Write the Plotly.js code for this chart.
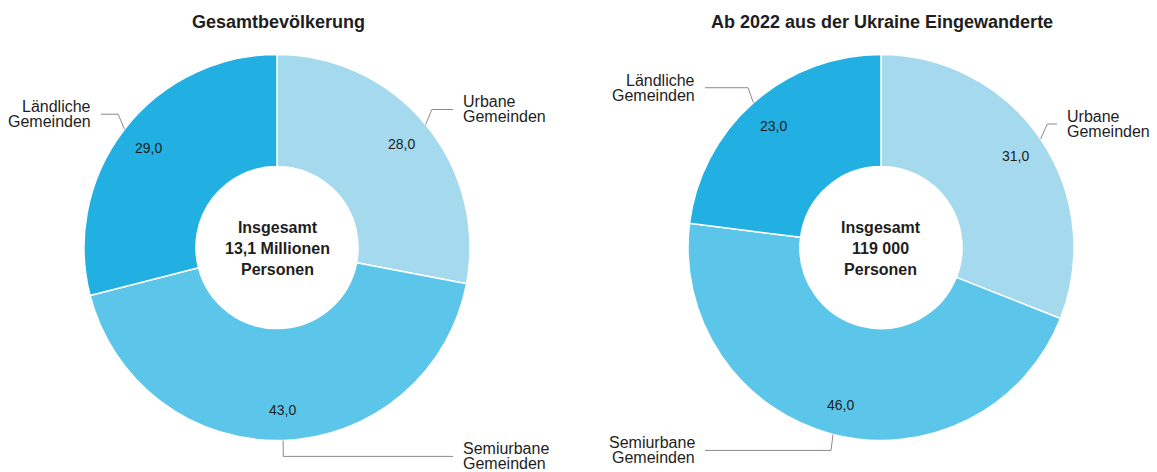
<!DOCTYPE html>
<html>
<head>
<meta charset="utf-8">
<script src="https://cdn.plot.ly/plotly-3.0.1.min.js"></script>
<style>html,body{margin:0;padding:0;background:#fff;}#chart{width:1157px;height:472px;}</style>
</head>
<body>
<div id="chart"></div>
<script>
// ---- data ----
const pieTitles = ['Gesamtbevölkerung', 'Ab 2022 aus der Ukraine Eingewanderte'];
const categories = ['Urbane Gemeinden', 'Semiurbane Gemeinden', 'Ländliche Gemeinden'];
const categoryLines = [['Urbane', 'Gemeinden'], ['Semiurbane', 'Gemeinden'], ['Ländliche', 'Gemeinden']];
const valuesGesamt = [28.0, 43.0, 29.0];
const valuesUkraine = [31.0, 46.0, 23.0];
const centerTexts = ['Insgesamt<br>13,1 Millionen<br>Personen', 'Insgesamt<br>119 000<br>Personen'];
const sliceColors = ['#A5D9EE', '#5BC6EA', '#22AFE1'];

// ---- layout constants (pixels) ----
const W = 1157, H = 472;
const CX = [277, 881], CY = 247.5, R = 193;
const HOLE = 0.42;
const FONT = '"Liberation Sans", Arial, sans-serif';
const TXT = '#1e1e1e';

const px = x => x / W;
const py = y => 1 - y / H;
const fmt = v => v.toFixed(1).replace('.', ',');

const seriesList = [valuesGesamt, valuesUkraine];
const traces = [];
const annotations = [];
const shapes = [];

seriesList.forEach((vals, k) => {
  const cx = CX[k];
  traces.push({
    type: 'pie',
    labels: categories,
    values: vals,
    sort: false,
    direction: 'clockwise',
    rotation: 0,
    hole: HOLE,
    textinfo: 'none',
    hoverinfo: 'none',
    marker: {colors: sliceColors, line: {color: '#ffffff', width: 1.5}},
    domain: {x: [px(cx - R), px(cx + R)], y: [py(CY + R), py(CY - R)]},
    showlegend: false
  });

  // title
  annotations.push({
    xref: 'paper', yref: 'paper', x: px(cx + 1), y: py(22),
    xanchor: 'center', yanchor: 'middle', showarrow: false,
    text: '<b>' + pieTitles[k] + '</b>',
    font: {family: FONT, size: 18, color: TXT}
  });
  // center text
  annotations.push({
    xref: 'paper', yref: 'paper', x: px(cx), y: py(CY + 1),
    xanchor: 'center', yanchor: 'middle', showarrow: false,
    text: '<b>' + centerTexts[k] + '</b>',
    font: {family: FONT, size: 16, color: TXT}
  });

  const total = vals.reduce((a, b) => a + b, 0);
  let cum = 0;
  vals.forEach((v, i) => {
    const th = 2 * Math.PI * (cum + v / 2) / total;
    cum += v;
    const s = Math.sin(th), c = Math.cos(th);
    // value label
    annotations.push({
      xref: 'paper', yref: 'paper',
      x: px(cx + 0.84 * R * s), y: py(CY - 0.84 * R * c),
      xanchor: 'center', yanchor: 'middle', showarrow: false,
      text: fmt(v), font: {family: FONT, size: 14, color: TXT}
    });
    // leader line
    const side = s >= 0 ? 1 : -1;
    const ax = cx + R * s, ay = CY - R * c;
    const ex = ax + side * 8 * Math.abs(s);
    const ey = ay + (c > 0 ? -15 : 16);
    const lx = cx + side * 176;
    const lineStyle = {color: '#8a8a8a', width: 1};
    shapes.push({type: 'line', xref: 'paper', yref: 'paper', x0: px(ax), y0: py(ay), x1: px(ex), y1: py(ey), line: lineStyle});
    shapes.push({type: 'line', xref: 'paper', yref: 'paper', x0: px(ex), y0: py(ey), x1: px(lx), y1: py(ey), line: lineStyle});
    // category label (two lines)
    const tx = cx + side * 184;
    categoryLines[i].forEach((ln, j) => {
      annotations.push({
        xref: 'paper', yref: 'paper', x: px(tx), y: py(ey + (j === 0 ? -7.5 : 7.5)),
        xanchor: side > 0 ? 'left' : 'right', yanchor: 'middle', showarrow: false,
        text: ln, font: {family: FONT, size: 16, color: TXT}
      });
    });
  });
});

const layout = {
  width: W, height: H,
  margin: {l: 0, r: 0, t: 0, b: 0},
  paper_bgcolor: '#ffffff',
  plot_bgcolor: '#ffffff',
  annotations: annotations,
  shapes: shapes,
  showlegend: false
};

Plotly.newPlot('chart', traces, layout, {displayModeBar: false, staticPlot: true});
</script>
</body>
</html>
